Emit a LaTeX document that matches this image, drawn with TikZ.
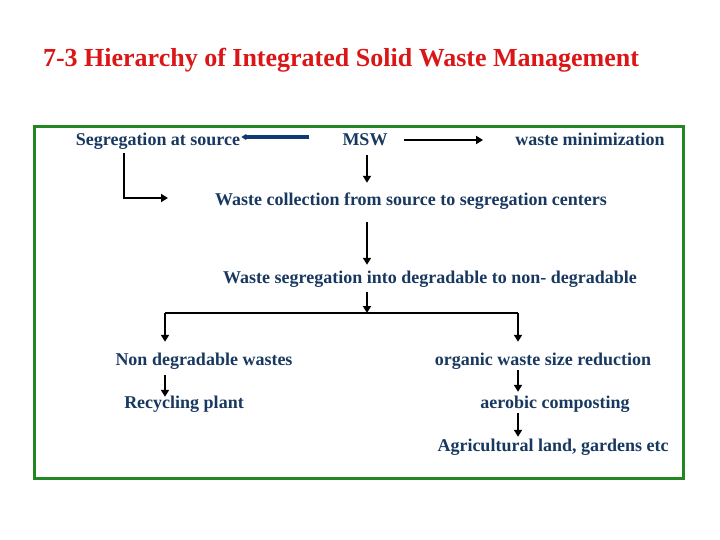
\documentclass[tikz,border=0pt]{standalone}
\usepackage{fontspec}
\setmainfont{Liberation Serif}
\usetikzlibrary{arrows.meta}
\definecolor{title_red}{RGB}{218,22,22}
\definecolor{label_blue}{RGB}{24,56,96}
\definecolor{frame_green}{RGB}{34,134,34}
\definecolor{arrow_blue}{RGB}{16,58,112}

\begin{document}
\begin{tikzpicture}[x=1pt,y=-1pt,
    lbl/.style={font=\bfseries\fontsize{18}{20}\selectfont, text=label_blue,
        inner sep=1pt, text height=12pt, text depth=4pt},
    arr/.style={line width=2.8pt, -{Triangle[length=7pt,width=8pt]}}
    ]
    \useasboundingbox (0,0) rectangle (720,540);
    % title and frame
    \node[font=\bfseries\fontsize{26}{30}\selectfont, text=title_red] (title) at (341,60)
        {7-3 Hierarchy of Integrated Solid Waste Management};
    \draw[frame_green, line width=3pt] (34,127) rectangle (683,478);
    % top row
    \node[lbl] (seg) at (158,142) {Segregation at source};
    \node[lbl] (msw) at (365,142) {MSW};
    \node[lbl] (minim) at (590,142) {waste minimization};
    \node[lbl] (collect) at (411,202) {Waste collection from source to segregation centers};
    \node[lbl] (sort) at (430,279) {Waste segregation into degradable to non- degradable};
    % two branches
    \node[lbl] (nondeg) at (204,361) {Non degradable wastes};
    \node[lbl] (recycle) at (184,404) {Recycling plant};
    \node[lbl] (organic) at (543,361) {organic waste size reduction};
    \node[lbl] (aerobic) at (555,404) {aerobic composting};
    \node[lbl] (agri) at (553,447) {Agricultural land, gardens etc};
    % helper coordinates
    \coordinate (spine) at (367,0);
    \coordinate (bendL) at (124,198);
    \coordinate (leftX) at (165,313);
    \coordinate (rightX) at (518,313);
    % arrows
    \draw[line width=3.5pt, arrow_blue, -{Triangle[length=5pt,width=6pt]}]
        ([xshift=-32pt,yshift=5pt]msw.west) -- ([yshift=5pt]seg.east);
    \draw[arr] ([xshift=15pt,yshift=2pt]msw.east) -- ([xshift=-31pt,yshift=2pt]minim.west);
    \draw[arr] ([yshift=-4pt]spine |- msw.south) -- ([yshift=10pt]spine |- collect.north);
    \draw[arr] ([yshift=-2pt]bendL |- seg.south) -- (bendL) -- ++(44,0);
    \draw[arr] ([yshift=-11pt]spine |- collect.south) -- ([yshift=5pt]spine |- sort.north);
    \draw[arr] ([yshift=-4pt]spine |- sort.south) -- (spine |- leftX);
    \draw[line width=2.8pt] (leftX) -- (rightX);
    \draw[arr] (leftX) -- ([yshift=10pt]leftX |- nondeg.north);
    \draw[arr] (rightX) -- ([yshift=10pt]rightX |- organic.north);
    \draw[arr] ([yshift=-5pt]leftX |- nondeg.south) -- ([yshift=-2pt]leftX |- recycle.north);
    \draw[arr] (rightX |- organic.south) -- ([yshift=3pt]rightX |- aerobic.north);
    \draw[arr] (rightX |- aerobic.south) -- ([yshift=1pt]rightX |- agri.north);
\end{tikzpicture}
\end{document}
